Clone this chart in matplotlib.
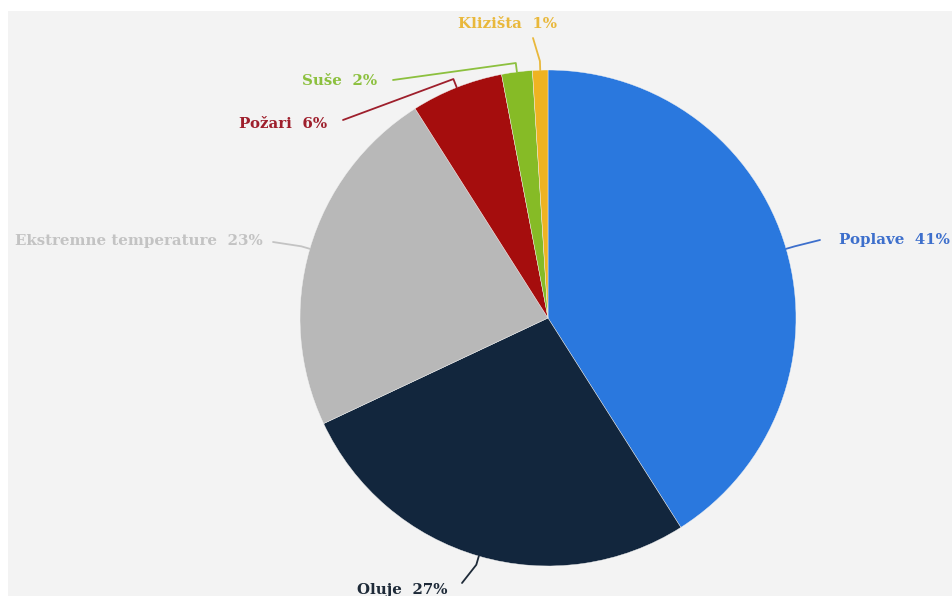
import numpy as np
import matplotlib
matplotlib.use("Agg")
import matplotlib.pyplot as plt
from matplotlib.patches import Rectangle

# data
labels = ['Poplave', 'Oluje', 'Ekstremne temperature', 'Požari', 'Suše', 'Klizišta']
values = [41, 27, 23, 6, 2, 1]
colors = ['#2a78de', '#12263d', '#b8b8b8', '#a50d0d', '#86bb26', '#efb321']
text_colors = ['#3d6fcc', '#1e2a38', '#c3c3c3', '#9e1f2c', '#8cc03e', '#e9b83b']

# layout (pixel coords)
W, H = 952, 596
cx, cy, R = 548, 318, 248
# text anchor (x, baseline y, ha) and connector start per label
text_pos = [(839, 244, 'left'), (402, 594, 'center'), (263, 245, 'right'),
            (327, 128, 'right'), (377, 85, 'right'), (507, 28, 'center')]
line_start = [(820, 240), (462, 583), (273, 242), (343, 120), (393, 80), (533, 38)]

fig = plt.figure(figsize=(W / 100, H / 100), dpi=100, facecolor='white')
ax = fig.add_axes([0, 0, 1, 1])
ax.add_patch(Rectangle((8, 11), W, H, facecolor='#f3f3f3', edgecolor='none', zorder=0))

wedges, _ = ax.pie(values, colors=colors, center=(cx, cy), radius=R,
                   startangle=270, counterclock=True,
                   wedgeprops=dict(edgecolor='#f3f3f3', linewidth=0.3))
ax.set_xlim(0, W)
ax.set_ylim(H, 0)
ax.set_aspect('equal')
ax.axis('off')

total = sum(values)
cum = np.cumsum([0] + values)
for i, lab in enumerate(labels):
    mid = (cum[i] + values[i] / 2) / total * 2 * np.pi  # clockwise from top
    ax_x, ax_y = cx + R * np.sin(mid), cy - R * np.cos(mid)
    kx, ky = cx + (R + 9) * np.sin(mid), cy - (R + 9) * np.cos(mid)
    sx, sy = line_start[i]
    ax.plot([sx, kx, ax_x], [sy, ky, ax_y], color=text_colors[i], lw=1.3,
            solid_capstyle='round', zorder=3)
    tx, ty, ha = text_pos[i]
    ax.text(tx, ty, f'{lab}  {values[i]}%', color=text_colors[i], ha=ha, va='baseline',
            fontsize=10.8, fontweight='bold', family='DejaVu Serif', zorder=4)

fig.savefig('out.png', dpi=100, facecolor=fig.get_facecolor())
